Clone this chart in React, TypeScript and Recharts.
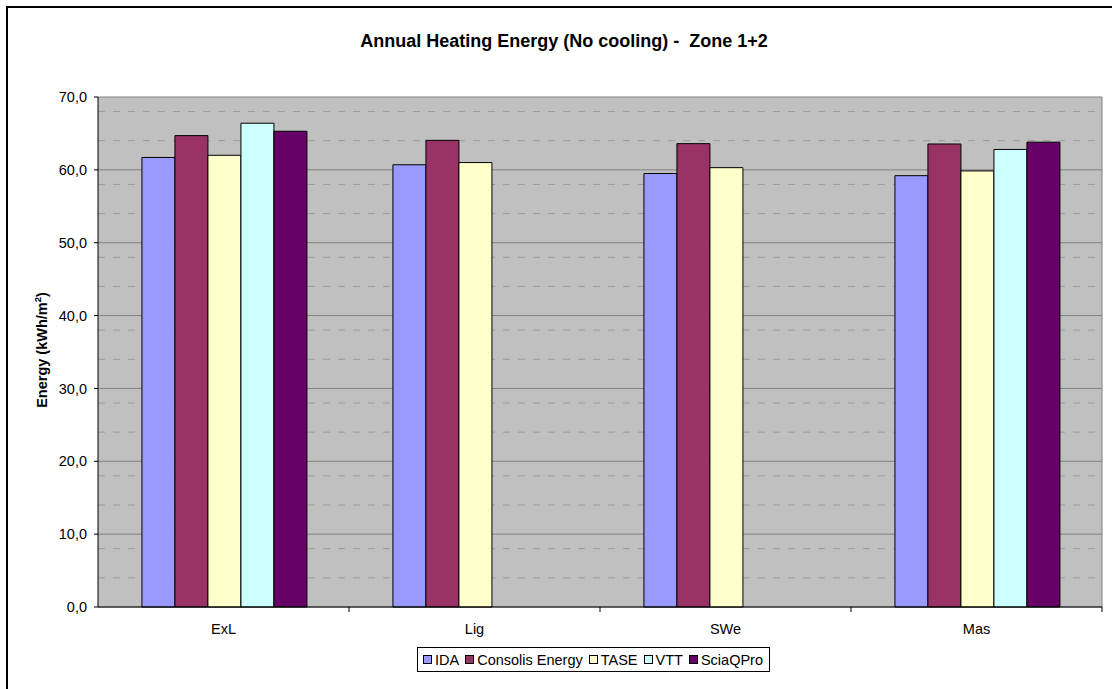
import React from "react";
import { BarChart, Bar, XAxis, YAxis, CartesianGrid } from "recharts";

const categories = ["ExL", "Lig", "SWe", "Mas"];
const idaValues = [61.7, 60.7, 59.5, 59.2];
const consolisValues = [64.7, 64.05, 63.6, 63.55];
const taseValues = [62.0, 61.0, 60.3, 59.85];
const vttValues = [66.4, null, null, 62.8];
const sciaValues = [65.3, null, null, 63.8];
const yTicks = [0, 10, 20, 30, 40, 50, 60, 70];
const minorSteps = [2, 4, 6, 8];

const series = [
  { key: "ida", name: "IDA", color: "#9999FF" },
  { key: "consolis", name: "Consolis Energy", color: "#993366" },
  { key: "tase", name: "TASE", color: "#FFFFCC" },
  { key: "vtt", name: "VTT", color: "#CCFFFF" },
  { key: "scia", name: "SciaQPro", color: "#660066" },
];

const data = categories.map((cat, i) => ({
  cat,
  ida: idaValues[i],
  consolis: consolisValues[i],
  tase: taseValues[i],
  vtt: vttValues[i],
  scia: sciaValues[i],
}));

const minorTicks = yTicks.slice(0, -1).flatMap((t) => minorSteps.map((s) => t + s));

const FONT = "'Liberation Sans', Arial, sans-serif";

function CategoryTick(props: any) {
  const { x, y, payload, index, width, visibleTicksCount } = props;
  const bw = width / visibleTicksCount;
  const left = x - bw / 2;
  const right = x + bw / 2;
  return (
    <g>
      {index > 0 && <line x1={left} y1={y} x2={left} y2={y + 5} stroke="#000" />}
      {index === visibleTicksCount - 1 && (
        <line x1={right} y1={y} x2={right} y2={y + 5} stroke="#000" />
      )}
      <text x={x} y={y + 27} textAnchor="middle" fontSize={14.5} fontFamily={FONT} fill="#000">
        {payload.value}
      </text>
    </g>
  );
}

export default function App() {
  return (
    <div
      style={{
        position: "absolute",
        left: 0,
        top: 0,
        width: 1112,
        height: 689,
        background: "#fff",
        overflow: "hidden",
        fontFamily: FONT,
      }}
    >
      <div
        style={{
          position: "absolute",
          left: 6,
          top: 6,
          width: 1200,
          height: 800,
          borderLeft: "2px solid #000",
          borderTop: "2px solid #000",
        }}
      />
      <div
        style={{
          position: "absolute",
          left: 0,
          width: 1128,
          top: 31,
          textAlign: "center",
          fontWeight: "bold",
          fontSize: 18,
          whiteSpace: "pre",
        }}
      >
        {"Annual Heating Energy (No cooling) -  Zone 1+2"}
      </div>
      <div style={{ position: "absolute", left: 0, top: 0 }}>
        <BarChart
          width={1112}
          height={689}
          data={data}
          margin={{ top: 97, right: 10, left: 0, bottom: 0 }}
          barCategoryGap="17.5%"
          barGap={0}
        >
          <CartesianGrid
            vertical={false}
            horizontalValues={minorTicks}
            stroke="#9a9a9a"
            strokeDasharray="7 8"
            fill="#C0C0C0"
            fillOpacity={1}
          />
          <CartesianGrid
            horizontalValues={yTicks}
            verticalCoordinatesGenerator={({ offset }: any) => [offset.left + offset.width]}
            stroke="#808080"
          />
          <XAxis
            dataKey="cat"
            height={82}
            tickLine={false}
            tickSize={0}
            tickMargin={0}
            axisLine={{ stroke: "#000" }}
            tick={<CategoryTick />}
            interval={0}
          />
          <YAxis
            width={98}
            domain={[0, 70]}
            ticks={yTicks}
            tickSize={4}
            tickMargin={7}
            axisLine={{ stroke: "#000" }}
            tickLine={{ stroke: "#000" }}
            tick={{ fill: "#000", fontSize: 14.5, fontFamily: FONT }}
            tickFormatter={(v: number) => v.toFixed(1).replace(".", ",")}
            label={
              <text
                x={47}
                y={352}
                transform="rotate(-90 47 352)"
                textAnchor="middle"
                fontSize={14.5}
                fontWeight="bold"
                fontFamily={FONT}
                fill="#000"
              >
                Energy (kWh/m
                <tspan fontSize={9.5} dy={-6}>
                  2
                </tspan>
                <tspan dy={6}>)</tspan>
              </text>
            }
          />
          {series.map((s) => (
            <Bar
              key={s.key}
              dataKey={s.key}
              name={s.name}
              fill={s.color}
              stroke="#000"
              strokeWidth={1}
              isAnimationActive={false}
            />
          ))}
        </BarChart>
      </div>
      <div
        style={{
          position: "absolute",
          left: 417,
          top: 647,
          height: 23,
          border: "1px solid #000",
          display: "flex",
          alignItems: "center",
          paddingLeft: 5,
          paddingRight: 0,
          fontSize: 14.5,
          background: "#fff",
        }}
      >
        {series.map((s) => (
          <div key={s.key} style={{ display: "flex", alignItems: "center", marginRight: 6 }}>
            <span
              style={{
                display: "inline-block",
                width: 7,
                height: 7,
                border: "1px solid #000",
                background: s.color,
                marginRight: 3,
              }}
            />
            <span>{s.name}</span>
          </div>
        ))}
      </div>
    </div>
  );
}
